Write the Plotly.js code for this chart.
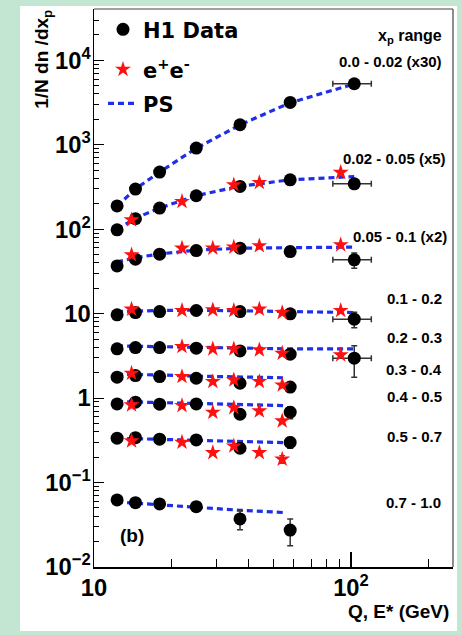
<!DOCTYPE html>
<html><head><meta charset="utf-8">
<script src="https://cdn.plot.ly/plotly-3.0.1.min.js"></script>
<style>
html,body{margin:0;padding:0;background:#c3e6d2;width:462px;height:635px;overflow:hidden;}
#chart{position:absolute;left:20px;top:6px;width:437px;height:625px;}
</style></head><body><div id="chart"></div>
<script>
// Q (H1) and E* (e+e-) positions, GeV
const qH1 = [12.3, 14.5, 18, 25, 37, 58, 103];
const qH1short = [12.3, 14.5, 18, 25, 37, 58];
const qPSlong = [12.3, 14.5, 18, 25, 37, 58, 103];
const qPSshort = [12.3, 14.5, 18, 25, 37, 56];
const qH1errPlus = 17, qH1errMinus = 18;

// x_p bins (values as plotted, including the scale factor)
const binLabels = ["0.0 - 0.02 (x30)", "0.02 - 0.05 (x5)", "0.05 - 0.1 (x2)", "0.1 - 0.2",
  "0.2 - 0.3", "0.3 - 0.4", "0.4 - 0.5", "0.5 - 0.7", "0.7 - 1.0"];

// H1 data
const h1_b1 = [189, 299, 475, 914, 1726, 3170, 5280];
const h1_b2 = [98.4, 133, 178, 249, 321, 385, 345];
const h1_b3 = [36.8, 44.2, 50.7, 55.9, 59.7, 54.4, 43.4];
const h1_b4 = [9.68, 10.3, 10.6, 10.9, 10.6, 9.95, 8.6];
const h1_b5 = [3.83, 3.97, 3.97, 3.90, 3.62, 3.31, 2.97];
const h1_b6 = [1.77, 1.85, 1.80, 1.72, 1.50, 1.35];
const h1_b7 = [0.853, 0.894, 0.847, 0.853, 0.644, 0.681];
const h1_b8 = [0.335, 0.340, 0.326, 0.320, 0.255, 0.299];
const h1_b9 = [0.0622, 0.0578, 0.0558, 0.0518, 0.0371, 0.0274];
// H1 errors
const h1e_b1 = [0, 0, 0, 0, 0, 0, 0];
const h1e_b2 = [0, 0, 0, 0, 0, 0, 0];
const h1e_b3 = [0, 0, 0, 0, 0, 0, 9];
const h1e_b4 = [0, 0, 0, 0, 0, 0, 1.8];
const h1e_b5 = [0, 0, 0, 0, 0, 0, 1.2];
const h1e_b6 = [0, 0, 0, 0, 0, 0];
const h1e_b7 = [0, 0, 0, 0, 0, 0.11];
const h1e_b8 = [0, 0, 0, 0, 0, 0.045];
const h1e_b9 = [0.003, 0.003, 0.003, 0.005, 0.0095, 0.0095];

// e+e- data
const eeQ_b2 = [14, 22, 35, 44, 91.2];
const ee_b2 = [129, 213, 336, 357, 470];
const eeQ_b3 = [14, 22, 29, 35, 44, 91.2];
const ee_b3 = [49.8, 59.7, 59.7, 61.4, 63.6, 65.3];
const eeQ_b4 = [14, 22, 29, 35, 44, 54, 91.2];
const ee_b4 = [11.3, 10.9, 11.1, 10.9, 11.3, 10.3, 10.9];
const eeQ_b5 = [22, 29, 35, 44, 54, 91.2];
const ee_b5 = [4.08, 3.83, 3.83, 3.72, 3.40, 3.25];
const eeQ_b6 = [14, 22, 29, 35, 44, 54];
const ee_b6 = [1.97, 1.80, 1.57, 1.64, 1.57, 1.43];
const eeQ_b7 = [14, 22, 29, 35, 44, 54];
const ee_b7 = [0.83, 0.815, 0.68, 0.771, 0.705, 0.537];
const eeQ_b8 = [14, 22, 29, 35, 44, 54];
const ee_b8 = [0.311, 0.300, 0.226, 0.271, 0.226, 0.189];
const eeErr_b8 = [0, 0, 0, 0, 0, 0.02];

// PS prediction
const ps_b1 = [188, 300, 475, 910, 1720, 3150, 5250];
const ps_b2 = [100, 135, 178, 250, 323, 385, 421];
const ps_b3 = [41, 46, 51, 56.5, 59.7, 61, 61.4];
const ps_b4 = [10.6, 10.8, 10.9, 11.0, 10.9, 10.6, 10.3];
const ps_b5 = [4.15, 4.12, 4.05, 3.95, 3.88, 3.83, 3.83];
const ps_b6 = [1.92, 1.91, 1.88, 1.82, 1.77, 1.74];
const ps_b7 = [0.91, 0.90, 0.88, 0.85, 0.83, 0.815];
const ps_b8 = [0.335, 0.33, 0.325, 0.315, 0.305, 0.297];
const ps_b9 = [0.059, 0.057, 0.055, 0.052, 0.047, 0.044];

// ---- assemble traces ----
const h1Rows = [
  [qH1, h1_b1, h1e_b1, true], [qH1, h1_b2, h1e_b2, true], [qH1, h1_b3, h1e_b3, true],
  [qH1, h1_b4, h1e_b4, true], [qH1, h1_b5, h1e_b5, true], [qH1short, h1_b6, h1e_b6, false],
  [qH1short, h1_b7, h1e_b7, false], [qH1short, h1_b8, h1e_b8, false], [qH1short, h1_b9, h1e_b9, false]];
let hx = [], hy = [], hey = [], hexp = [], hexm = [];
h1Rows.forEach(([q, v, e, wide]) => {
  q.forEach((qq, i) => {
    hx.push(qq); hy.push(v[i]); hey.push(e[i]);
    const last = wide && i === q.length - 1;
    hexp.push(last ? qH1errPlus : 0); hexm.push(last ? qH1errMinus : 0);
  });
});
const eeRows = [[eeQ_b2, ee_b2], [eeQ_b3, ee_b3], [eeQ_b4, ee_b4], [eeQ_b5, ee_b5],
  [eeQ_b6, ee_b6], [eeQ_b7, ee_b7], [eeQ_b8, ee_b8, eeErr_b8]];
let ex = [], ey = [], eey = [];
eeRows.forEach(([q, v, e]) => q.forEach((qq, i) => { ex.push(qq); ey.push(v[i]); eey.push(e ? e[i] : 0); }));
const psRows = [[qPSlong, ps_b1], [qPSlong, ps_b2], [qPSlong, ps_b3], [qPSlong, ps_b4], [qPSlong, ps_b5],
  [qPSshort, ps_b6], [qPSshort, ps_b7], [qPSshort, ps_b8], [qPSshort, ps_b9]];
let px = [], py = [];
psRows.forEach(([q, v]) => { q.forEach((qq, i) => { px.push(qq); py.push(v[i]); }); px.push(null); py.push(null); });

const FONT = 'Liberation Sans, Arial, Helvetica, sans-serif';
const LFONT = 'DejaVu Sans, Liberation Sans, sans-serif';
const traces = [
  {x: px, y: py, mode: 'lines', name: 'PS', legend: 'legend3', connectgaps: false,
   line: {color: '#1f2fe8', width: 3.2, dash: '6px,4px'}, hoverinfo: 'skip'},
  {x: hx, y: hy, mode: 'markers', name: 'H1 Data', legend: 'legend',
   marker: {symbol: 'circle', size: 13, color: '#000'},
   error_y: {type: 'data', array: hey, color: '#333', thickness: 1.5, width: 3},
   error_x: {type: 'data', symmetric: false, array: hexp, arrayminus: hexm, color: '#333', thickness: 1.5, width: 3}},
  {x: ex, y: ey, mode: 'markers', name: 'e<sup>+</sup>e<sup>-</sup>', legend: 'legend2',
   marker: {symbol: 'star', size: 12, color: '#ff1010', line: {width: 0}},
   error_y: {type: 'data', array: eey, color: '#ff1010', thickness: 1.2, width: 3}}
];

// layout helpers (plot area in page px: x 94..453, y 9.3..567)
const PX0 = 94, PX1 = 453, PY0 = 9.3, PY1 = 567;
const pxx = v => (v - PX0) / (PX1 - PX0);
const pyy = v => (PY1 - v) / (PY1 - PY0);
const labelPos = [[444, 62], [448, 159], [449, 237], [444, 299], [444, 338], [444, 370], [444, 397], [444, 437], [443, 503]];
const annotations = binLabels.map((t, i) => ({
  text: t, xref: 'paper', yref: 'paper', x: pxx(labelPos[i][0]), y: pyy(labelPos[i][1]),
  xanchor: 'right', yanchor: 'middle', showarrow: false,
  font: {family: FONT, size: 15, color: '#000', weight: 'bold'}}));
annotations.push({text: 'x<sub>p</sub> range', xref: 'paper', yref: 'paper', x: pxx(444), y: pyy(37),
  xanchor: 'right', yanchor: 'middle', showarrow: false, font: {family: FONT, size: 16, color: '#000', weight: 'bold'}});
annotations.push({text: '(b)', xref: 'paper', yref: 'paper', x: pxx(132), y: pyy(536),
  xanchor: 'center', yanchor: 'middle', showarrow: false, font: {family: FONT, size: 19, color: '#000', weight: 'bold'}});
annotations.push({text: 'Q, E* (GeV)', xref: 'paper', yref: 'paper', x: pxx(451), y: pyy(611),
  xanchor: 'right', yanchor: 'middle', showarrow: false, font: {family: FONT, size: 19, color: '#000', weight: 'bold'}});
annotations.push({text: '1/N dn /dx<sub>p</sub>', xref: 'paper', yref: 'paper', x: pxx(43), y: pyy(60),
  xanchor: 'center', yanchor: 'middle', textangle: -90, showarrow: false,
  font: {family: FONT, size: 19, color: '#000', weight: 'bold'}});

const legFont = {family: LFONT, size: 21, color: '#000', weight: 'bold'};
const mkLegend = yc => ({x: pxx(103), y: pyy(yc), xanchor: 'left', yanchor: 'middle',
  bgcolor: 'rgba(0,0,0,0)', font: legFont, itemwidth: 30, borderwidth: 0});

const layout = {
  width: 437, height: 625,
  margin: {l: PX0 - 20, r: 457 - PX1, t: PY0 - 6, b: 631 - PY1, pad: 0},
  paper_bgcolor: '#ffffff', plot_bgcolor: '#ffffff',
  font: {family: FONT, color: '#000'},
  showlegend: true,
  legend: mkLegend(30), legend2: mkLegend(70), legend3: mkLegend(104),
  xaxis: {type: 'log', range: [1, Math.log10(249.5)], dtick: 1, exponentformat: 'power',
    showline: true, linecolor: '#000', linewidth: 1.5, mirror: false, showgrid: false, zeroline: false,
    ticks: 'inside', ticklen: 15, tickwidth: 1.2, tickcolor: '#000',
    tickfont: {family: FONT, size: 19, color: '#000', weight: 'bold'},
    minor: {ticks: 'inside', ticklen: 8, tickwidth: 1, tickcolor: '#000', dtick: 'D1', showgrid: false}},
  yaxis: {type: 'log', range: [-2, 4.608], dtick: 1, exponentformat: 'power',
    showline: true, linecolor: '#000', linewidth: 1.5, mirror: false, showgrid: false, zeroline: false,
    ticks: 'inside', ticklen: 10, tickwidth: 1.2, tickcolor: '#000', ticklabelstandoff: -2,
    tickfont: {family: FONT, size: 19, color: '#000', weight: 'bold'},
    minor: {ticks: 'inside', ticklen: 5, tickwidth: 1, tickcolor: '#000', dtick: 'D1', showgrid: false}},
  shapes: [
    {type: 'line', xref: 'paper', yref: 'paper', x0: 0, x1: 1, y0: 1, y1: 1, line: {color: '#444', width: 1.2}},
    {type: 'line', xref: 'paper', yref: 'paper', x0: 1, x1: 1, y0: 0, y1: 1, line: {color: '#444', width: 1.2}}
  ],
  annotations: annotations
};
Plotly.newPlot('chart', traces, layout, {displayModeBar: false, staticPlot: true});
</script></body></html>
